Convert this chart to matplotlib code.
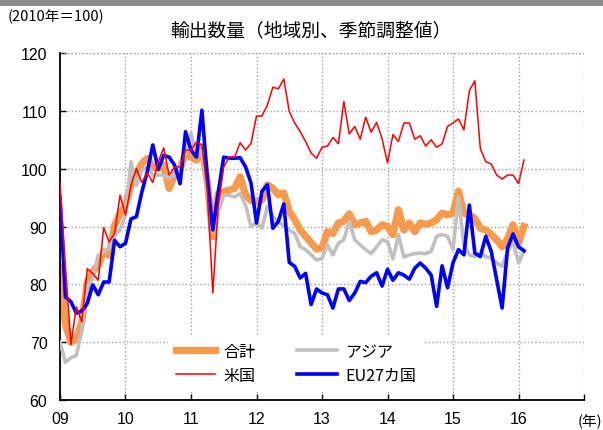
import matplotlib
matplotlib.use("Agg")
import matplotlib.pyplot as plt
from matplotlib.patches import Rectangle
import numpy as np

plt.rcParams['font.family'] = ['Noto Sans CJK JP', 'DejaVu Sans']

title = "輸出数量（地域別、季節調整値）"
unit_label = "(2010年＝100)"
year_labels = ["09", "10", "11", "12", "13", "14", "15", "16"]
series_names = ["合計", "アジア", "米国", "EU27カ国"]

total = [83, 73, 70, 70.5, 73.5, 80.4, 82.2, 83.3, 85.6, 85, 90.2, 92.2, 93.7, 97.1, 99.2, 100.9,
         101.8, 100.3, 100, 100.6, 96.6, 98.9, 100, 102.6, 102, 101.5, 103.8, 97.7, 88.2, 95.7,
         96, 96.3, 96.6, 98.6, 95.4, 94.5, 94.3, 94.6, 97.2, 96.6, 95.5, 95.8, 92.6, 91.2, 89.4,
         88.3, 87.2, 86.1, 86.3, 89.1, 88.8, 90.6, 90.9, 92.2, 90.3, 90.6, 90.9, 89.1, 89.4, 90.3,
         90, 88.6, 92.9, 89.4, 90.6, 89.1, 90.6, 90.4, 90.6, 91.2, 92.3, 92, 92.3, 96.1, 92.3, 92,
         91.4, 89.7, 89.4, 88.6, 87.7, 86.5, 87.9, 90.3, 87.1, 90]
asia = [70, 66.5, 67.3, 67.7, 72, 79.6, 81, 85, 85.6, 86.2, 88.5, 89.4, 92, 101.2, 97.1, 99.7,
        100.3, 98.9, 98.9, 98.9, 98.3, 98.9, 100.3, 102.9, 106.1, 102.3, 103.2, 95.4, 89.1, 92.5,
        95.4, 95.4, 95.1, 95.7, 93.7, 90, 90.6, 89.7, 93.5, 91.7, 90.9, 90, 89.4, 88.8, 86.5,
        86, 85.1, 84.2, 84.5, 86.8, 85.1, 87.1, 87.7, 90.9, 87.7, 86.8, 86, 85.3, 86.5, 87.7,
        87.4, 84.4, 88.6, 84.7, 85.1, 85.3, 85.4, 85.3, 85.7, 88.3, 88.6, 88.3, 86, 95, 86.8,
        85.1, 84.8, 85.4, 84.8, 84.5, 83.7, 83.1, 85.7, 87.4, 83.7, 85.7]
usa = [97.5, 83, 69.6, 76.1, 73.5, 82.7, 81.9, 80.7, 89.8, 87.3, 88.8, 95.4, 92, 97.1, 100, 97.6,
       99.3, 97.6, 101.2, 103.6, 98.9, 100.3, 100.3, 103.2, 103.2, 104.6, 104.1, 96, 78.5, 93.7,
       100.3, 102, 102, 104.5, 103.2, 104.4, 109.1, 109.1, 111, 114.1, 113.8, 115.5, 109.9,
       107.9, 106.4, 104.7, 102.7, 101.8, 103.7, 103.9, 105.4, 104.3, 111.6, 106, 107.3, 105.1,
       108.9, 106.3, 108, 105.2, 101, 105.9, 104.7, 107.9, 107.9, 105.1, 105.7, 103.9, 105,
       103.7, 104.3, 107.3, 107.9, 108.6, 106.7, 113.5, 115.2, 103.5, 101.2, 100.8, 98.9, 98.2,
       98.9, 98.9, 97.4, 101.5]
eu = [95, 77.8, 77, 75, 75.4, 76.7, 79.9, 78.2, 80.4, 80.4, 87.6, 86.5, 87.1, 91.3, 91.7, 96,
      99.5, 104.1, 99.9, 102.3, 102, 100.6, 97.4, 106.4, 103.2, 102, 110.1, 98.3, 89.4, 96,
      102, 101.8, 101.8, 101.9, 100.3, 97.5, 90.6, 96.1, 97.2, 89.7, 90.9, 93.9, 83.8, 83.1,
      81.1, 81.9, 76.5, 79.2, 78.5, 78.2, 75.9, 79.2, 79.2, 77.2, 78.5, 80.5, 80.3, 81.4, 82.0,
      79.7, 82.6, 80.7, 82.0, 81.6, 80.9, 82.8, 83.7, 82.8, 81.6, 76.2, 83.2, 79.4, 83.7, 86,
      85.1, 93.7, 85.4, 84.8, 88.3, 85.7, 80.8, 75.9, 86.3, 88.7, 86.5, 85.8]

x = 2009 + np.arange(len(total)) / 12.0

fig = plt.figure(figsize=(6.03, 4.31), dpi=100)
ax = fig.add_axes([0.0995, 0.0696, 0.8690, 0.8051])

# top grey band
fig.patches.append(Rectangle((0, 0.984), 1, 0.016, transform=fig.transFigure,
                             facecolor='#8c8c8c', edgecolor='none'))

l_total, = ax.plot(x, total, color='#F79A4C', lw=5.2, solid_joinstyle='round', zorder=2)
l_asia, = ax.plot(x, asia, color='#C0C0C0', lw=2.6, zorder=3)
l_eu, = ax.plot(x, eu, color='#0000FF', lw=2.6, zorder=4)
l_usa, = ax.plot(x, usa, color='#FF0000', lw=1.1, zorder=5)

ax.set_xlim(2009, 2017)
ax.set_ylim(60, 120)
ax.set_yticks(np.arange(60, 121, 10))
ax.set_xticks(np.arange(2009, 2017))
ax.set_xticklabels(year_labels)
ax.tick_params(direction='in', length=4, width=1, labelsize=11.5, colors='black')
ax.tick_params(axis='y', pad=9)
ax.tick_params(axis='x', pad=8)
for lab in ax.get_xticklabels() + ax.get_yticklabels():
    lab.set_family(['Liberation Sans', 'DejaVu Sans'])
ax.set_xticks(np.arange(2009, 2018), minor=True)
ax.tick_params(axis='x', which='minor', direction='in', length=4, width=1)

ax.grid(True, which='major', color='#A0A0A0', linestyle=':', linewidth=1)
ax.axvline(2017, color='#A0A0A0', linestyle=':', linewidth=1)
ax.axhline(120, color='#A0A0A0', linestyle=':', linewidth=1)
for s in ['top', 'right']:
    ax.spines[s].set_visible(False)
ax.spines['left'].set_linewidth(1.3)
ax.spines['bottom'].set_linewidth(1.3)

handles = [l_total, l_usa, l_asia, l_eu]
labels = [series_names[0], series_names[2], series_names[1], series_names[3]]
leg = ax.legend(handles, labels, ncol=2, loc='lower left', bbox_to_anchor=(0.19, 0.0),
                frameon=True, fontsize=11.5, handlelength=2.5, handletextpad=0.5,
                columnspacing=2.6, borderpad=0.5, labelspacing=0.45, fancybox=False)
leg.get_frame().set_facecolor('white')
leg.get_frame().set_edgecolor('none')
leg.get_frame().set_alpha(1)
leg.set_zorder(10)

fig.text(0.012, 0.96, unit_label, fontsize=10.5, ha='left', va='center')
fig.text(0.515, 0.928, title, fontsize=13.5, ha='center', va='center')
fig.text(0.998, 0.022, "(年)", fontsize=10.5, ha='right', va='center')

fig.savefig("out.png", dpi=100)
